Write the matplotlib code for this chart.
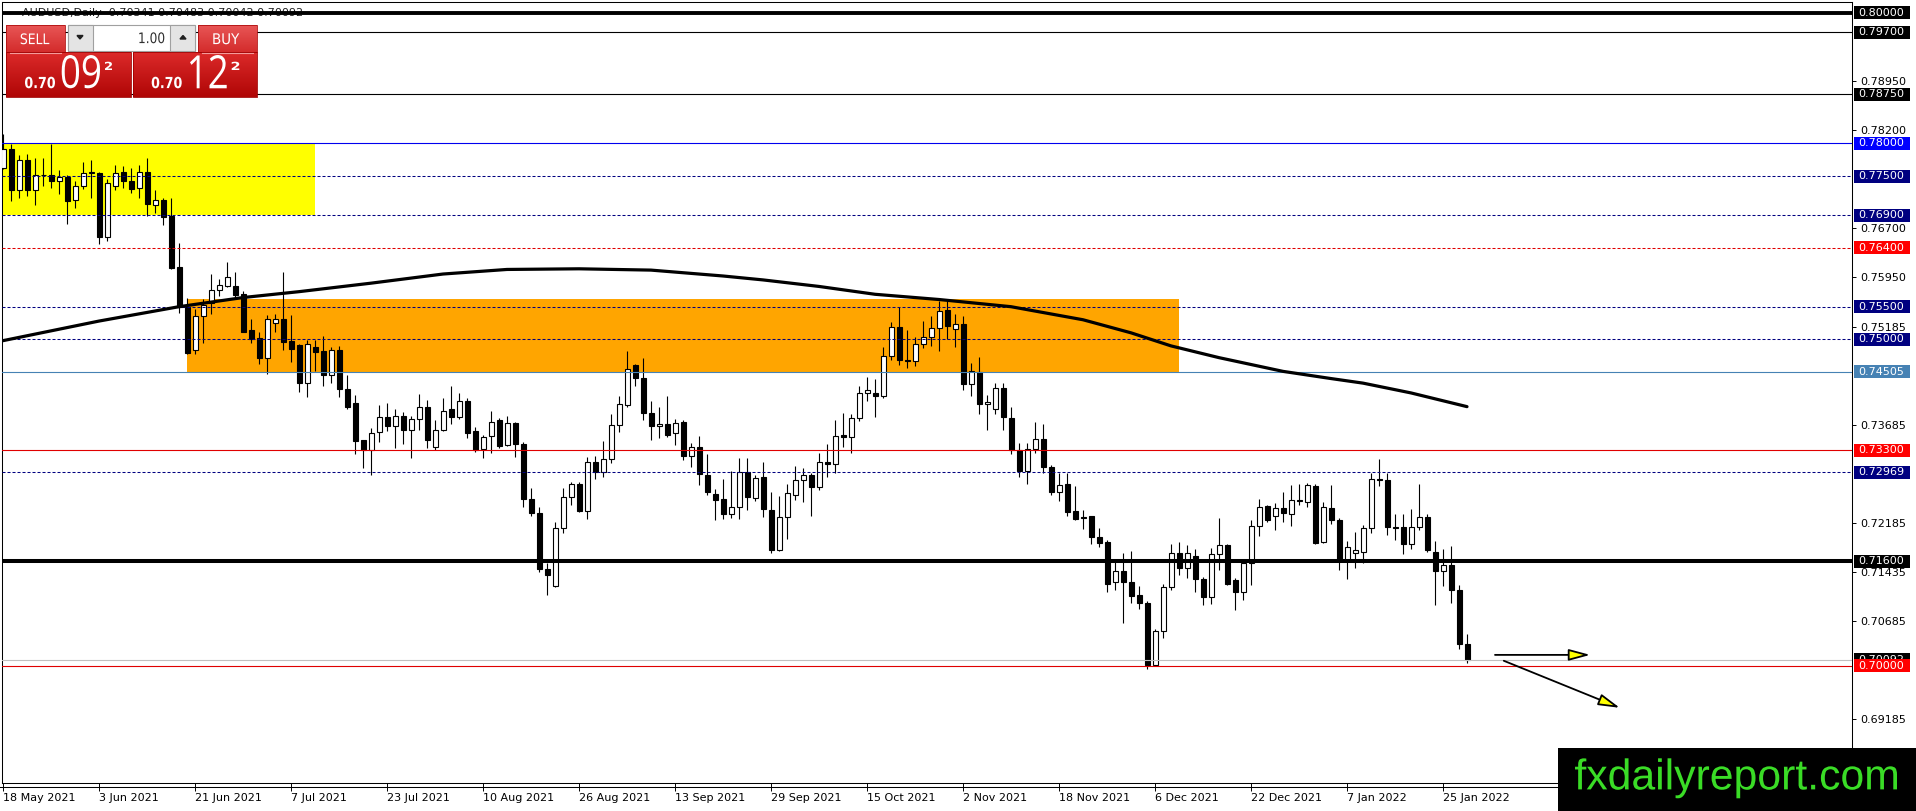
import numpy as np
import matplotlib
matplotlib.use('agg')
import matplotlib.pyplot as plt
from matplotlib.patches import Rectangle, PathPatch, FancyArrowPatch, ArrowStyle
from matplotlib.textpath import TextPath
from matplotlib.font_manager import FontProperties
from matplotlib.transforms import Affine2D
from matplotlib.colors import LinearSegmentedColormap

# +-------------+
# | Chart data  |
# +-------------+
chart_title = 'AUDUSD,Daily  0.70341 0.70483 0.70042 0.70092'

opens = [
  0.7763, 0.7792, 0.7728, 0.7775, 0.7729, 0.7752, 0.7751, 0.7743, 0.7749, 0.7713,
  0.7734, 0.7755, 0.7755, 0.7656, 0.7735, 0.7756, 0.7743, 0.7731, 0.7756, 0.7705,
  0.7713, 0.7689, 0.7610, 0.7550, 0.7484, 0.7535, 0.7555, 0.7575, 0.7582, 0.7581,
  0.7569, 0.7514, 0.7502, 0.7472, 0.7525, 0.7531, 0.7498, 0.7491, 0.7433, 0.7488,
  0.7482, 0.7446, 0.7484, 0.7424, 0.7402, 0.7346, 0.7331, 0.7358, 0.7381, 0.7367,
  0.7383, 0.7362, 0.7378, 0.7397, 0.7335, 0.7362, 0.7393, 0.7381, 0.7406, 0.7359,
  0.7332, 0.7352, 0.7377, 0.7338, 0.7372, 0.7340, 0.7255, 0.7234, 0.7148, 0.7122,
  0.7212, 0.7259, 0.7278, 0.7238, 0.7312, 0.7297, 0.7317, 0.7369, 0.7400, 0.7461,
  0.7441, 0.7387, 0.7367, 0.7370, 0.7357, 0.7373, 0.7322, 0.7335, 0.7293, 0.7264,
  0.7255, 0.7232, 0.7243, 0.7297, 0.7257, 0.7289, 0.7239, 0.7177, 0.7228, 0.7262,
  0.7285, 0.7292, 0.7274, 0.7313, 0.7309, 0.7353, 0.7351, 0.7380, 0.7418, 0.7418,
  0.7413, 0.7474, 0.7519, 0.7469, 0.7467, 0.7493, 0.7504, 0.7517, 0.7545, 0.7516,
  0.7524, 0.7432, 0.7450, 0.7401, 0.7393, 0.7426, 0.7380, 0.7330, 0.7298, 0.7332,
  0.7347, 0.7304, 0.7267, 0.7279, 0.7238, 0.7228, 0.7229, 0.7197, 0.7190, 0.7128,
  0.7145, 0.7128, 0.7108, 0.7096, 0.7001, 0.7054, 0.7121, 0.7173, 0.7150, 0.7168,
  0.7133, 0.7106, 0.7171, 0.7185, 0.7132, 0.7113, 0.7158, 0.7215, 0.7245, 0.7229,
  0.7242, 0.7233, 0.7254, 0.7251, 0.7276, 0.7190, 0.7242, 0.7224, 0.7162, 0.7173,
  0.7175, 0.7211, 0.7286, 0.7285, 0.7213, 0.7213, 0.7187, 0.7213, 0.7228, 0.7175,
  0.7145, 0.7154, 0.7116, 0.70341]
highs = [
  0.7814, 0.7799, 0.7782, 0.7784, 0.7777, 0.7777, 0.7799, 0.7759, 0.7751, 0.7743,
  0.7772, 0.7775, 0.7756, 0.7746, 0.7767, 0.7766, 0.7763, 0.7767, 0.7777, 0.7728,
  0.7717, 0.7717, 0.7647, 0.7563, 0.7547, 0.7562, 0.7600, 0.7593, 0.7618, 0.7603,
  0.7574, 0.7531, 0.7511, 0.7537, 0.7539, 0.7603, 0.7537, 0.7493, 0.7499, 0.7499,
  0.7505, 0.7488, 0.7490, 0.7445, 0.7415, 0.7346, 0.7365, 0.7400, 0.7402, 0.7394,
  0.7389, 0.7382, 0.7416, 0.7407, 0.7377, 0.7410, 0.7429, 0.7418, 0.7410, 0.7366,
  0.7354, 0.7391, 0.7379, 0.7383, 0.7374, 0.7343, 0.7272, 0.7244, 0.7157, 0.7221,
  0.7272, 0.7282, 0.7281, 0.7320, 0.7322, 0.7345, 0.7386, 0.7413, 0.7482, 0.7462,
  0.7471, 0.7406, 0.7397, 0.7413, 0.7378, 0.7376, 0.7342, 0.7352, 0.7325, 0.7271,
  0.7286, 0.7298, 0.7318, 0.7318, 0.7293, 0.7313, 0.7266, 0.7260, 0.7279, 0.7306,
  0.7303, 0.7295, 0.7326, 0.7340, 0.7376, 0.7387, 0.7385, 0.7428, 0.7442, 0.7439,
  0.7489, 0.7526, 0.7550, 0.7514, 0.7504, 0.7528, 0.7536, 0.7558, 0.7558, 0.7539,
  0.7535, 0.7464, 0.7473, 0.7415, 0.7433, 0.7433, 0.7396, 0.7341, 0.7341, 0.7373,
  0.7370, 0.7308, 0.7296, 0.7295, 0.7275, 0.7239, 0.7230, 0.7211, 0.7193, 0.7160,
  0.7173, 0.7176, 0.7123, 0.7099, 0.7056, 0.7126, 0.7187, 0.7190, 0.7185, 0.7179,
  0.7136, 0.7180, 0.7227, 0.7187, 0.7135, 0.7159, 0.7224, 0.7255, 0.7247, 0.7249,
  0.7266, 0.7277, 0.7279, 0.7280, 0.7279, 0.7251, 0.7277, 0.7226, 0.7191, 0.7205,
  0.7216, 0.7296, 0.7317, 0.7295, 0.7233, 0.7232, 0.7241, 0.7279, 0.7232, 0.7191,
  0.7179, 0.7184, 0.7124, 0.70483]
lows = [
  0.7761, 0.7712, 0.7716, 0.7720, 0.7706, 0.7734, 0.7732, 0.7722, 0.7677, 0.7701,
  0.7730, 0.7716, 0.7646, 0.7651, 0.7728, 0.7732, 0.7724, 0.7717, 0.7689, 0.7693,
  0.7675, 0.7608, 0.7541, 0.7478, 0.7478, 0.7495, 0.7539, 0.7567, 0.7580, 0.7562,
  0.7511, 0.7495, 0.7462, 0.7447, 0.7511, 0.7484, 0.7465, 0.7419, 0.7411, 0.7451,
  0.7428, 0.7433, 0.7412, 0.7393, 0.7325, 0.7303, 0.7292, 0.7343, 0.7359, 0.7333,
  0.7340, 0.7319, 0.7361, 0.7333, 0.7331, 0.7359, 0.7371, 0.7378, 0.7349, 0.7328,
  0.7318, 0.7326, 0.7333, 0.7336, 0.7320, 0.7244, 0.7229, 0.7144, 0.7109, 0.7121,
  0.7203, 0.7246, 0.7236, 0.7225, 0.7287, 0.7290, 0.7311, 0.7358, 0.7397, 0.7428,
  0.7376, 0.7346, 0.7349, 0.7350, 0.7339, 0.7315, 0.7305, 0.7277, 0.7262, 0.7223,
  0.7225, 0.7227, 0.7225, 0.7239, 0.7252, 0.7228, 0.7173, 0.7176, 0.7194, 0.7254,
  0.7251, 0.7229, 0.7270, 0.7290, 0.7295, 0.7335, 0.7326, 0.7375, 0.7405, 0.7381,
  0.7410, 0.7468, 0.7461, 0.7456, 0.7459, 0.7487, 0.7490, 0.7482, 0.7501, 0.7488,
  0.7423, 0.7414, 0.7385, 0.7362, 0.7386, 0.7362, 0.7325, 0.7289, 0.7278, 0.7326,
  0.7295, 0.7261, 0.7252, 0.7229, 0.7223, 0.7209, 0.7186, 0.7182, 0.7114, 0.7116,
  0.7066, 0.7096, 0.7088, 0.6995, 0.7000, 0.7043, 0.7116, 0.7139, 0.7134, 0.7113,
  0.7093, 0.7095, 0.7147, 0.7124, 0.7085, 0.7101, 0.7124, 0.7199, 0.7220, 0.7208,
  0.7221, 0.7215, 0.7246, 0.7244, 0.7187, 0.7188, 0.7218, 0.7147, 0.7133, 0.7150,
  0.7158, 0.7203, 0.7275, 0.7200, 0.7193, 0.7172, 0.7179, 0.7208, 0.7174, 0.7093,
  0.7123, 0.7097, 0.7026, 0.70042]
closes = [
  0.7792, 0.7728, 0.7775, 0.7728, 0.7752, 0.7751, 0.7743, 0.7748, 0.7712, 0.7734,
  0.7755, 0.7756, 0.7657, 0.7740, 0.7754, 0.7743, 0.7730, 0.7756, 0.7707, 0.7713,
  0.7688, 0.7609, 0.7550, 0.7479, 0.7535, 0.7552, 0.7575, 0.7583, 0.7595, 0.7568,
  0.7512, 0.7501, 0.7472, 0.7531, 0.7531, 0.7496, 0.7485, 0.7433, 0.7493, 0.7480,
  0.7446, 0.7483, 0.7424, 0.7397, 0.7345, 0.7331, 0.7357, 0.7381, 0.7367, 0.7383,
  0.7362, 0.7378, 0.7397, 0.7346, 0.7362, 0.7391, 0.7381, 0.7405, 0.7356, 0.7331,
  0.7351, 0.7374, 0.7337, 0.7372, 0.7340, 0.7255, 0.7234, 0.7148, 0.7139, 0.7212,
  0.7259, 0.7278, 0.7238, 0.7313, 0.7297, 0.7317, 0.7369, 0.7401, 0.7454, 0.7441,
  0.7387, 0.7367, 0.7370, 0.7353, 0.7372, 0.7322, 0.7335, 0.7294, 0.7266, 0.7254,
  0.7232, 0.7243, 0.7297, 0.7259, 0.7288, 0.7240, 0.7177, 0.7228, 0.7265, 0.7285,
  0.7292, 0.7274, 0.7313, 0.7309, 0.7352, 0.7351, 0.7380, 0.7418, 0.7423, 0.7413,
  0.7474, 0.7519, 0.7468, 0.7467, 0.7493, 0.7503, 0.7517, 0.7544, 0.7520, 0.7524,
  0.7432, 0.7451, 0.7401, 0.7404, 0.7426, 0.7381, 0.7330, 0.7298, 0.7332, 0.7347,
  0.7304, 0.7267, 0.7277, 0.7235, 0.7225, 0.7226, 0.7197, 0.7189, 0.7125, 0.7145,
  0.7128, 0.7107, 0.7096, 0.7001, 0.7053, 0.7121, 0.7173, 0.7150, 0.7173, 0.7133,
  0.7106, 0.7171, 0.7185, 0.7125, 0.7113, 0.7158, 0.7215, 0.7243, 0.7224, 0.7242,
  0.7234, 0.7254, 0.7252, 0.7277, 0.7189, 0.7243, 0.7223, 0.7162, 0.7182, 0.7177,
  0.7211, 0.7286, 0.7284, 0.7213, 0.7212, 0.7186, 0.7213, 0.7228, 0.7178, 0.7145,
  0.7154, 0.7116, 0.7034, 0.70092]

# moving average at a few bars
ma_bars = [0, 12, 22, 30, 37, 46, 55, 63, 72, 81, 90, 95, 102, 109, 117,
           126, 135, 141, 146, 152, 160, 166, 170, 176, 183]
ma_vals = [0.7498, 0.7528, 0.7550, 0.7564, 0.7573, 0.7586, 0.7600, 0.7607,
           0.7608, 0.7606, 0.7597, 0.7591, 0.7581, 0.7569, 0.7561, 0.7550,
           0.7530, 0.7510, 0.7490, 0.7472, 0.7451, 0.7440, 0.7433, 0.7418,
           0.7397]

date_bars = [0, 12, 24, 36, 48, 60, 72, 84, 96, 108, 120, 132, 144, 156, 168, 180]
date_labels = ['18 May 2021', '3 Jun 2021', '21 Jun 2021', '7 Jul 2021',
               '23 Jul 2021', '10 Aug 2021', '26 Aug 2021', '13 Sep 2021',
               '29 Sep 2021', '15 Oct 2021', '2 Nov 2021', '18 Nov 2021',
               '6 Dec 2021', '22 Dec 2021', '7 Jan 2022', '25 Jan 2022']

price_ticks = [0.78950, 0.78200, 0.76700, 0.75950, 0.75185, 0.73685,
               0.72185, 0.71435, 0.70685, 0.69185]

level_prices = [0.80000, 0.79700, 0.78750, 0.78000, 0.77500, 0.76900, 0.76400,
                0.75500, 0.75000, 0.74505, 0.73300, 0.72969, 0.71600, 0.70092,
                0.70000]

# zones: first bar, last bar, low price, high price
yellow_zone = [-1, 39, 0.7690, 0.7800]
orange_zone = [23, 147, 0.7450, 0.7562]

# arrows: (bar, price) start and end
arrow_flat = [(186.5, 0.7017), (198.4, 0.7017)]
arrow_down = [(187.6, 0.7008), (202.1, 0.6936)]

W, H = 1916, 811


def fit_text(ax, s, box, color, family='DejaVu Sans', weight='normal', z=30):
  # draw text as a path stretched into a pixel box (x0, y0, x1, y1), y down
  x0, y0, x1, y1 = box
  tp = TextPath((0, 0), s, size=10,
                prop=FontProperties(family=family, weight=weight))
  ext = tp.get_extents()
  tr = Affine2D().translate(-ext.x0, -ext.y0) \
    .scale((x1 - x0) / ext.width, -(y1 - y0) / ext.height).translate(x0, y1)
  ax.add_patch(PathPatch(tr.transform_path(tp), fc=color, ec='none', zorder=z))


def grad_box(ax, box, top, bottom, z=20):
  x0, y0, x1, y1 = box
  cmap = LinearSegmentedColormap.from_list('g', [top, bottom])
  ax.imshow(np.linspace(0, 1, 64).reshape(-1, 1), cmap=cmap,
            extent=(x0, x1, y1, y0), aspect='auto', zorder=z,
            interpolation='bilinear')


def main():
  plt.rcParams['font.family'] = ['DejaVu Sans']
  fig = plt.figure(figsize=(W / 100, H / 100), dpi=100)
  fig.patch.set_facecolor('white')
  ax = fig.add_axes([2 / W, 28 / H, 1850 / W, 781 / H])
  ax.set_xlim(-0.125, 231.125)
  ax.set_ylim(0.68209, 0.80164)
  for sp in ax.spines.values():
    sp.set_linewidth(0.75)
    sp.set_color('black')
  ytr = ax.get_yaxis_transform()

  # +-------+
  # | Zones |
  # +-------+
  for zone, col in ((yellow_zone, '#FFFF00'), (orange_zone, '#FFA500')):
    ax.add_patch(Rectangle((zone[0], zone[2]), zone[1] - zone[0],
                           zone[3] - zone[2], fc=col, ec='none', zorder=1))

  # +---------+
  # | Candles |
  # +---------+
  x = np.arange(len(opens))
  o = np.array(opens)
  c = np.array(closes)
  ax.vlines(x, lows, highs, colors='black', linewidth=0.8, zorder=3)
  body_low = np.minimum(o, c)
  body_h = np.maximum(np.abs(c - o), 0.00002)
  face = ['white' if cc >= oo else 'black' for oo, cc in zip(o, c)]
  ax.bar(x, body_h, bottom=body_low, width=0.625, color=face,
         edgecolor='black', linewidth=0.8, zorder=4)

  # +-------------------+
  # | Horizontal levels |
  # +-------------------+
  navy = '#000080'
  dash = (0, (2.9, 1.9))
  level_styles = [
    ('black', '-', 2.8, 'black'),
    ('black', '-', 0.8, 'black'),
    ('black', '-', 0.8, 'black'),
    ('#0000EE', '-', 0.8, '#0000FF'),
    (navy, dash, 0.75, navy),
    (navy, dash, 0.75, navy),
    ('#E00000', dash, 0.75, '#FF0000'),
    (navy, dash, 0.75, navy),
    (navy, dash, 0.75, navy),
    ('#4682B4', '-', 0.8, '#4682B4'),
    ('#E00000', '-', 0.8, '#FF0000'),
    (navy, dash, 0.75, navy),
    ('black', '-', 2.9, 'black'),
    ('#C0C0C0', '-', 0.8, 'black'),
    ('#E00000', '-', 0.8, '#FF0000'),
  ]
  box_h = 13 / 6533.0
  for k, (p, st) in enumerate(zip(level_prices, level_styles)):
    col, ls, lw, bg = st
    ax.axhline(p, color=col, linestyle=ls, linewidth=lw, zorder=5)
    ax.add_patch(Rectangle((1 + 2 / 1850, p - box_h / 2), 56 / 1850, box_h,
                           transform=ytr, fc=bg, ec='none', clip_on=False,
                           zorder=10 + k))
    ax.text(1 + 6.5 / 1850, p, '%.5f' % p, transform=ytr, ha='left',
            va='center', fontsize=8, color='white', clip_on=False,
            zorder=10.5 + k)

  # moving average
  ax.plot(ma_bars, ma_vals, color='black', linewidth=2.3, zorder=6,
          solid_capstyle='round', solid_joinstyle='round')

  # arrows
  for a in (arrow_flat, arrow_down):
    ax.add_patch(FancyArrowPatch(a[0], a[1],
                 arrowstyle=ArrowStyle('-|>', head_length=1.3, head_width=0.35),
                 mutation_scale=10, fc='#FFFF00', ec='black', lw=1.3,
                 shrinkA=0, shrinkB=0, zorder=7))

  # title, crossed by the top line as in the terminal
  ax.text(20 / 1850, 0.8, chart_title, transform=ytr, ha='left', va='center',
          fontsize=8, color='#202020', zorder=4.5)

  # +------+
  # | Axes |
  # +------+
  ax.yaxis.tick_right()
  ax.set_yticks(price_ticks)
  ax.set_yticklabels(['%.5f' % v for v in price_ticks])
  ax.tick_params(axis='y', direction='out', length=3, width=0.7, pad=3,
                 labelsize=8, colors='black')
  ax.set_xticks(date_bars)
  ax.set_xticklabels(date_labels, ha='left')
  ax.tick_params(axis='x', direction='out', length=6, width=0.7, pad=1.5,
                 labelsize=8, colors='black')

  # +-------------------------------+
  # | Overlay: trade panel and logo |
  # +-------------------------------+
  ov = fig.add_axes([0, 0, 1, 1], zorder=5)
  ov.set_axis_off()
  ov.plot([0, 1852], [787, 787], color='black', linewidth=0.75, zorder=2)

  # sell / buy buttons and price boxes
  for bx, px0, px1 in ((6, 6, 131), (198, 133, 257)):
    grad_box(ov, (bx, 25, bx + 59, 52), '#E85656', '#D42C2C')
    grad_box(ov, (px0, 52, px1, 97), '#DC2A2A', '#B00606')
    ov.add_patch(Rectangle((bx, 25), 59, 27, fc='none', ec='#B01010',
                           lw=0.6, zorder=21))
    ov.add_patch(Rectangle((px0, 52), px1 - px0, 45, fc='none', ec='#A00000',
                           lw=0.6, zorder=21))
    ov.plot([bx + 4, bx + 55], [52.5, 52.5], color='#F49A9A', linewidth=0.8,
            zorder=22)
  fit_text(ov, 'SELL', (20.7, 33.3, 49.3, 44.3), 'white')
  fit_text(ov, 'BUY', (213.3, 33.3, 239.3, 44.3), 'white')
  fit_text(ov, '0.70', (25, 76.7, 55, 88.3), 'white', weight='bold')
  fit_text(ov, '09', (61.7, 55, 100, 88.3), 'white', family='Open Sans')
  fit_text(ov, '2', (105, 61.7, 112, 70), 'white', weight='bold')
  fit_text(ov, '0.70', (151.7, 76.7, 181.7, 88.3), 'white', weight='bold')
  fit_text(ov, '12', (190, 55, 226.7, 88.3), 'white', family='Open Sans')
  fit_text(ov, '2', (231.7, 61.7, 239.3, 70), 'white', weight='bold')

  # lot size spinner
  ov.add_patch(Rectangle((68, 25), 127, 26, fc='white', ec='#A0A0A0', lw=0.8,
                         zorder=20))
  ov.add_patch(Rectangle((68, 25), 25, 26, fc='#E4E4E4', ec='#A0A0A0', lw=0.8,
                         zorder=21))
  ov.add_patch(Rectangle((170, 25), 25, 26, fc='#E4E4E4', ec='#A0A0A0', lw=0.8,
                         zorder=21))
  ov.fill([77, 83, 80], [35.5, 35.5, 39], color='#202020', zorder=22)
  ov.fill([180, 186, 183], [39, 39, 35.5], color='#202020', zorder=22)
  fit_text(ov, '1.00', (139.3, 32.3, 164.3, 43.3), '#303030')

  # site logo
  ov.add_patch(Rectangle((1558, 748), W - 1558, H - 748, fc='black', ec='none',
                         zorder=20))
  fit_text(ov, 'fxdailyreport.com', (1575, 758.3, 1897, 798.3), '#3ADC26',
           family='Liberation Sans')

  ov.set_xlim(0, W)
  ov.set_ylim(H, 0)

  fig.savefig('out.png', dpi=100, facecolor='white')


if __name__ == '__main__':
  main()
